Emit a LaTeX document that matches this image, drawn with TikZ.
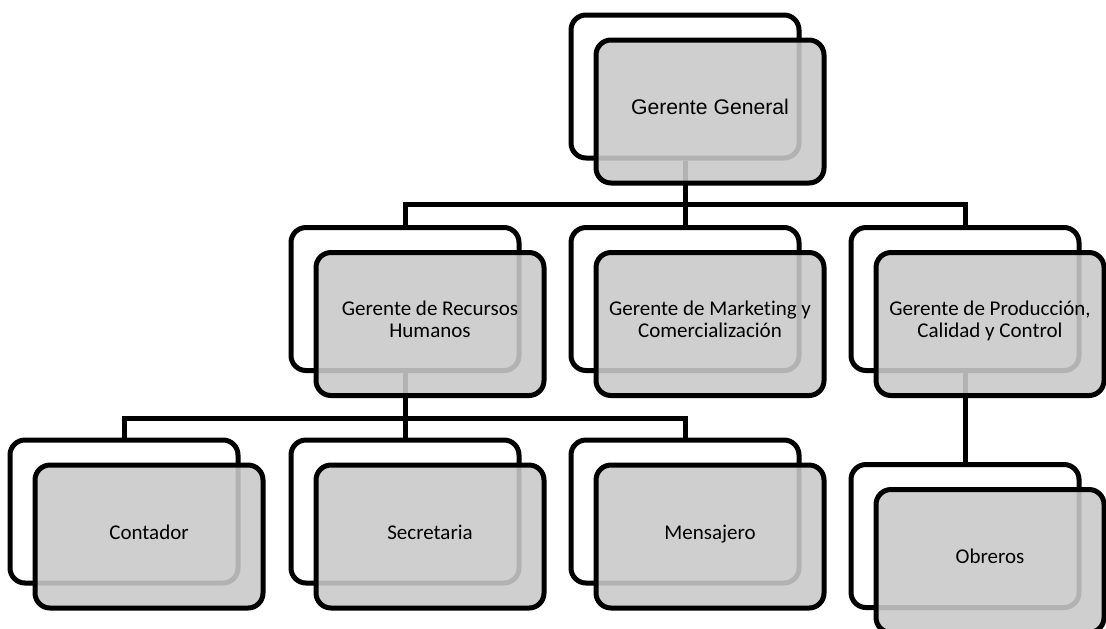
\documentclass[tikz,border=0pt]{standalone}
\usepackage{fontspec}
\setmainfont{Carlito}[Ligatures=CommonOff]
\newfontfamily\arialfont{Liberation Sans}
\usetikzlibrary{positioning,calc}
\definecolor{boxgray}{gray}{0.79}
\newcommand{\boxstrut}{\rule[-4.7pt]{0pt}{10.9pt}}

\begin{document}
\begin{tikzpicture}[x=0.5pt,y=-0.5pt,
    backbox/.style={draw, line width=2.5pt, rounded corners=7.5pt, minimum width=114pt, minimum height=71.5pt},
    frontbox/.style={backbox, fill=boxgray, fill opacity=0.89, text opacity=1, align=center, inner sep=2pt,
      font=\fontsize{10.5}{10.9}\selectfont, execute at begin node=\boxstrut, execute at end node=\boxstrut},
    conn/.style={line width=2.5pt}]
      \useasboundingbox (0,0) rectangle (1106,628);

      % Back boxes
      \node[backbox] (genb) at (685,86.5) {};
      \node[backbox] (rhb) at (405,299) {};
      \node[backbox] (mkb) at (685,299) {};
      \node[backbox] (prb) at (965,299) {};
      \node[backbox] (cob) at (124,511.5) {};
      \node[backbox] (seb) at (405,511.5) {};
      \node[backbox] (meb) at (685,511.5) {};
      \node[backbox] (obb) at (965,536) {};

      % Edges
      \draw[conn] (genb.south) -- ++(0,44) -| (rhb.north);
      \draw[conn] (genb.south) -- (mkb.north);
      \draw[conn] (genb.south) -- ++(0,44) -| (prb.north);
      \draw[conn] (rhb.south) -- ++(0,45) -| (cob.north);
      \draw[conn] (rhb.south) -- (seb.north);
      \draw[conn] (rhb.south) -- ++(0,45) -| (meb.north);
      \draw[conn] (prb.south) -- (obb.north);

      % Front boxes
      \node[frontbox, font=\arialfont\fontsize{10.6}{11}\selectfont] (gen) at ($(genb)+(25,25)$) {Gerente General};
      \node[frontbox] (rh) at ($(rhb)+(25,25)$) {Gerente de Recursos\\ Humanos};
      \node[frontbox] (mk) at ($(mkb)+(25,25)$) {Gerente de Marketing y\\ Comercialización};
      \node[frontbox] (pr) at ($(prb)+(25,25)$) {Gerente de Producción,\\ Calidad y Control};
      \node[frontbox] (co) at ($(cob)+(25,25)$) {Contador};
      \node[frontbox] (se) at ($(seb)+(25,25)$) {Secretaria};
      \node[frontbox] (me) at ($(meb)+(25,25)$) {Mensajero};
      \node[frontbox] (ob) at ($(obb)+(25,25)$) {Obreros};
    \end{tikzpicture}
\end{document}
